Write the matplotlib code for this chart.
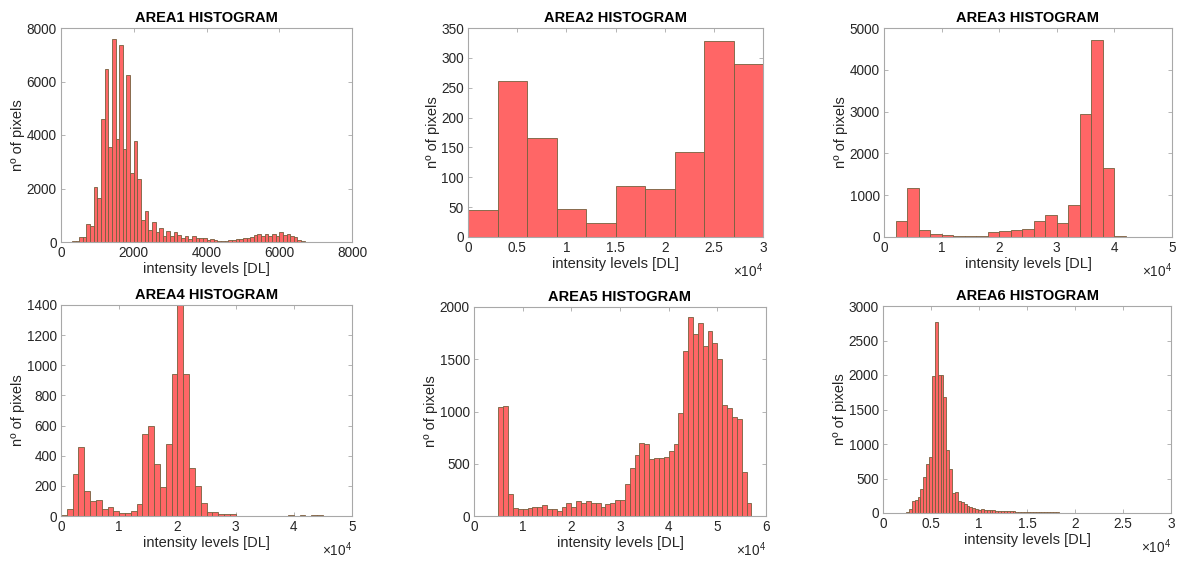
import numpy as np
import matplotlib
matplotlib.use('Agg')
import matplotlib.pyplot as plt
from matplotlib.ticker import FuncFormatter

plt.rcParams['font.family'] = ['Liberation Sans', 'DejaVu Sans']
plt.rcParams['mathtext.fontset'] = 'custom'
plt.rcParams['mathtext.rm'] = 'Liberation Sans'
plt.rcParams['mathtext.it'] = 'Liberation Sans:italic'

# ---------------- data ----------------
titles = ['AREA1 HISTOGRAM', 'AREA2 HISTOGRAM', 'AREA3 HISTOGRAM',
          'AREA4 HISTOGRAM', 'AREA5 HISTOGRAM', 'AREA6 HISTOGRAM']
x_label = 'intensity levels [DL]'
y_label = 'nº of pixels'

area1_start, area1_width = 0, 100
area1_counts = [0, 0, 5, 20, 30, 170, 200, 670, 600, 2070, 1640, 4600, 6470, 3540,
                7580, 3860, 7350, 3490, 6230, 2570, 3780, 2350, 810, 1170, 450, 760,
                375, 510, 240, 400, 240, 360, 275, 140, 240, 125, 210, 160, 150, 137,
                75, 100, 75, 50, 37, 50, 62, 75, 100, 112, 160, 137, 200, 274, 287,
                224, 300, 237, 311, 237, 374, 250, 287, 212, 187, 75, 37, 12, 5, 3,
                2, 1]

area2_start, area2_width = 0, 3000
area2_counts = [45, 262, 165, 47, 23, 86, 80, 142, 329, 290]

area3_start, area3_width = 2000, 2000
area3_counts = [389, 1175, 167, 71, 48, 30, 30, 30, 119, 135, 159, 190, 381, 516,
                341, 762, 2937, 4706, 1643, 20]

area4_start, area4_width = 0, 1000
area4_counts = [7, 49, 278, 457, 164, 100, 104, 49, 60, 33, 18, 18, 35, 80, 544, 597,
                345, 195, 475, 941, 1398, 941, 318, 199, 84, 27, 24, 13, 11, 11,
                0, 0, 0, 0, 0, 0, 0, 0, 0, 6, 0, 5, 0, 6, 7]

area5_start, area5_width = 5000, 1000
area5_counts = [1041, 1054, 211, 79, 63, 63, 72, 82, 85, 107, 63, 66, 47, 88, 129,
                82, 148, 129, 141, 129, 126, 85, 116, 120, 155, 155, 302, 459, 582,
                698, 686, 544, 557, 557, 560, 626, 689, 984, 1576, 1900, 1745, 1843,
                1623, 1768, 1655, 1503, 1063, 1035, 950, 931, 425, 120, 3]

area6_start, area6_width = 0, 300
area6_counts = [0, 0, 0, 0, 0, 0, 0, 0, 10, 63, 169, 183, 237, 343, 527, 710, 807,
                1985, 2768, 2000, 1995, 1676, 908, 633, 295, 309, 174, 155, 126, 106,
                87, 77, 63, 48, 53, 48, 39, 43, 38, 35, 30, 32, 27, 25, 24, 22, 20,
                21, 18, 17, 15, 16, 14, 12, 13, 11, 10, 10, 9, 8, 8, 7, 7, 6, 6, 5,
                5, 4, 4, 3, 3, 2, 2, 1, 1, 1, 1, 1, 1, 1, 1, 1, 1, 1, 1]

areas = [
    (area1_start, area1_width, area1_counts),
    (area2_start, area2_width, area2_counts),
    (area3_start, area3_width, area3_counts),
    (area4_start, area4_width, area4_counts),
    (area5_start, area5_width, area5_counts),
    (area6_start, area6_width, area6_counts),
]

x_limits = [(0, 8000), (0, 30000), (0, 50000), (0, 50000), (0, 60000), (0, 30000)]
x_steps = [2000, 5000, 10000, 10000, 10000, 5000]
y_limits = [(0, 8000), (0, 350), (0, 5000), (0, 1400), (0, 2000), (0, 3000)]
y_steps = [2000, 50, 1000, 200, 500, 500]
x_scaled = [False, True, True, True, True, True]

# ---------------- layout (pixel boxes: left, top, right, bottom) ----------------
W, H = 1177, 561
boxes = [(61, 28, 352, 242), (468, 28, 763, 237), (884, 28, 1172, 237),
         (61, 305, 352, 516), (474, 307, 766, 516), (883, 306, 1171, 513)]

fig = plt.figure(figsize=(W / 100, H / 100), dpi=100)

txt = '#262626'
box_col = '#a8a8a8'
tick_fs = 9.8
label_fs = 10.5

for i, (start, bw, counts) in enumerate(areas):
    x0, y0, x1, y1 = boxes[i]
    ax = fig.add_axes([x0 / W, 1 - y1 / H, (x1 - x0) / W, (y1 - y0) / H])
    counts = np.asarray(counts, dtype=float)
    edges = start + bw * np.arange(len(counts) + 1)
    ecols = ['#a8dc98' if c < 3 else '#75603e' for c in counts]
    ax.bar(edges[:-1], counts, width=bw, align='edge', color='#FF6666',
           edgecolor=ecols, linewidth=0.6, zorder=2)
    ax.set_xlim(*x_limits[i])
    ax.set_ylim(*y_limits[i])
    ax.set_xticks(np.arange(x_limits[i][0], x_limits[i][1] + 1, x_steps[i]))
    ax.set_yticks(np.arange(y_limits[i][0], y_limits[i][1] + 1, y_steps[i]))
    if x_scaled[i]:
        ax.xaxis.set_major_formatter(FuncFormatter(lambda v, p: f'{v / 1e4:g}'))
        ax.annotate(r'$\times10^{4}$', xy=(1, 0), xycoords='axes fraction',
                    xytext=(0, -24), textcoords='offset points', ha='right',
                    va='center', fontsize=tick_fs, color=txt)
    ax.tick_params(direction='in', length=3, width=0.6, colors=box_col,
                   labelcolor=txt, labelsize=tick_fs, top=True, right=True)
    ax.tick_params(axis='x', pad=3)
    ax.tick_params(axis='y', pad=3)
    for s in ax.spines.values():
        s.set_color(box_col)
        s.set_linewidth(0.8)
    ax.set_title(titles[i], fontsize=10.5, fontweight='bold', color='black', pad=4)
    ax.set_xlabel(x_label, fontsize=label_fs, color=txt, labelpad=1)
    ax.set_ylabel(y_label, fontsize=label_fs, color=txt, labelpad=1)

fig.savefig('out.png', dpi=100)
